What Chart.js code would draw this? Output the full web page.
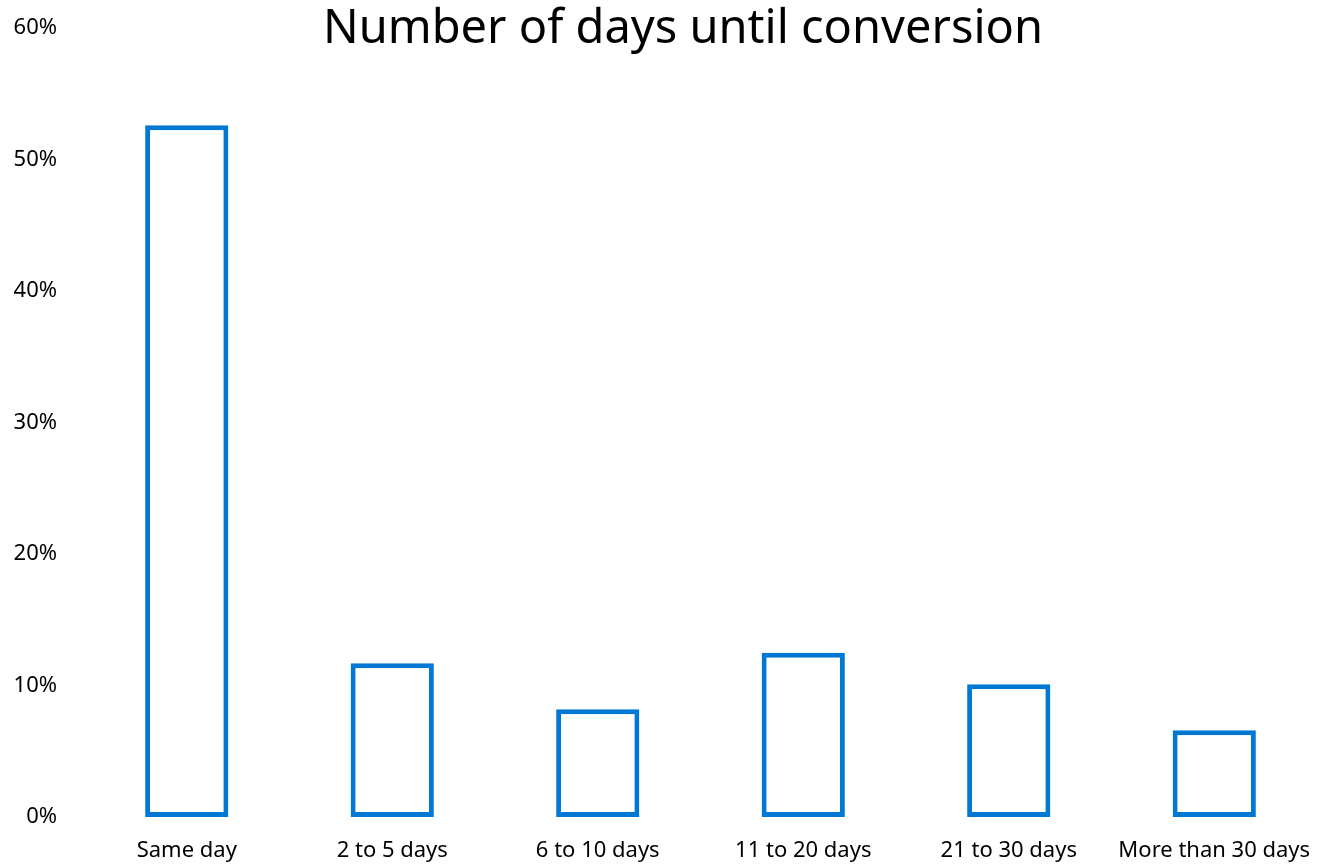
<!DOCTYPE html>
<html>
<head>
<meta charset="utf-8">
<title>Number of days until conversion</title>
<script src="https://cdn.jsdelivr.net/npm/chart.js@4/dist/chart.umd.min.js"></script>
<style>
  html, body { margin: 0; padding: 0; background: #fff; overflow: hidden; }
  canvas { display: block; }
</style>
</head>
<body>
<canvas id="daysChart" width="1317" height="865"></canvas>
<script>
const categories = ['Same day', '2 to 5 days', '6 to 10 days', '11 to 20 days', '21 to 30 days', 'More than 30 days'];
const shareValues = [52.6, 11.7, 8.2, 12.5, 10.1, 6.6];
const yTicks = [0, 10, 20, 30, 40, 50, 60];
const chartTitle = 'Number of days until conversion';

const FONT = "'Noto Sans', 'Open Sans', sans-serif";

// title sits over the top of the plot instead of taking its own row
const titleOverlay = {
  id: 'titleOverlay',
  afterDraw(chart) {
    const { ctx } = chart;
    ctx.save();
    ctx.font = `47px ${FONT}`;
    ctx.fillStyle = '#000';
    ctx.textAlign = 'center';
    ctx.textBaseline = 'middle';
    ctx.fillText(chartTitle, 683, 30);
    ctx.restore();
  }
};

new Chart(document.getElementById('daysChart').getContext('2d'), {
  type: 'bar',
  data: {
    labels: categories,
    datasets: [{
      data: shareValues,
      backgroundColor: '#ffffff',
      borderColor: '#0078d4',
      borderWidth: 5,
      borderSkipped: false,
      categoryPercentage: 1,
      barPercentage: 0.405
    }]
  },
  options: {
    responsive: false,
    animation: false,
    layout: { padding: { top: 28, left: 0, right: 0, bottom: 0 } },
    plugins: { legend: { display: false }, tooltip: { enabled: false } },
    scales: {
      x: {
        afterFit: axis => {
          axis.height = 48;
          axis.paddingLeft = 0;
          axis.paddingRight = 0;
        },
        grid: { display: false, drawTicks: false },
        border: { display: false },
        ticks: { color: '#000', font: { family: FONT, size: 22 }, padding: 21, maxRotation: 0, autoSkip: false }
      },
      y: {
        min: 0,
        max: 60,
        afterBuildTicks: axis => { axis.ticks = yTicks.map(v => ({ value: v })); },
        afterFit: axis => {
          axis.width = 84;
          axis.paddingTop = 0;
          axis.paddingBottom = 0;
        },
        grid: { display: false, drawTicks: false },
        border: { display: false },
        ticks: { color: '#000', font: { family: FONT, size: 22 }, padding: 27, callback: v => v + '%' }
      }
    }
  },
  plugins: [titleOverlay]
});
</script>
</body>
</html>
